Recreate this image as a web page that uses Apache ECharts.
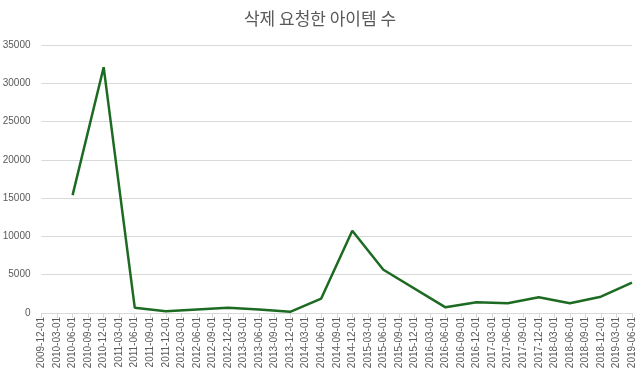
<!DOCTYPE html>
<html><head><meta charset="utf-8">
<script src="https://cdn.jsdelivr.net/npm/echarts@6/dist/echarts.min.js"></script>
<style>html,body{margin:0;padding:0;background:#fff}#c{width:640px;height:370px}</style>
</head><body><div id="c"></div>
<script>
const categories = ["2009-12-01","2010-03-01","2010-06-01","2010-09-01","2010-12-01","2011-03-01","2011-06-01","2011-09-01","2011-12-01","2012-03-01","2012-06-01","2012-09-01","2012-12-01","2013-03-01","2013-06-01","2013-09-01","2013-12-01","2014-03-01","2014-06-01","2014-09-01","2014-12-01","2015-03-01","2015-06-01","2015-09-01","2015-12-01","2016-03-01","2016-06-01","2016-09-01","2016-12-01","2017-03-01","2017-06-01","2017-09-01","2017-12-01","2018-03-01","2018-06-01","2018-09-01","2018-12-01","2019-03-01","2019-06-01"];
const values = [null,null,15400,null,32100,null,700,null,230,null,460,null,700,null,450,null,150,null,1880,null,10750,null,5650,null,null,null,740,null,1400,null,1270,null,2050,null,1270,null,2130,null,3960];
const yTicks = {min:0, max:35000, interval:5000};
const title = "삭제 요청한 아이템 수";

const chart = echarts.init(document.getElementById('c'), null, {renderer:'canvas'});
chart.setOption({
  animation:false,
  title:{text:title,left:'center',top:5,textStyle:{fontFamily:'"Noto Sans CJK KR", sans-serif',fontSize:17,fontWeight:'normal',color:'#595959'}},
  grid:{left:41.5,right:8,top:45,bottom:57,containLabel:false,outerBoundsMode:'none'},
  xAxis:{type:'category',data:categories,boundaryGap:false,
    axisLine:{lineStyle:{color:'#d9d9d9'}},
    axisTick:{show:true,interval:0,alignWithLabel:true,length:5,lineStyle:{color:'#d9d9d9'}},
    axisLabel:{interval:0,rotate:90,fontSize:10,color:'#595959',fontFamily:'"Liberation Sans", Arial, sans-serif',margin:4}},
  yAxis:{type:'value',min:yTicks.min,max:yTicks.max,interval:yTicks.interval,
    axisLine:{show:false},axisTick:{show:false},
    splitLine:{lineStyle:{color:'#d9d9d9',width:1}},
    axisLabel:{fontSize:10,color:'#595959',fontFamily:'"Liberation Sans", Arial, sans-serif',margin:11,formatter:v=>String(v)}},
  series:[{type:'line',data:values,connectNulls:true,showSymbol:false,symbol:'none',
    lineStyle:{color:'#1d6b22',width:2.5}}]
});
</script></body></html>
